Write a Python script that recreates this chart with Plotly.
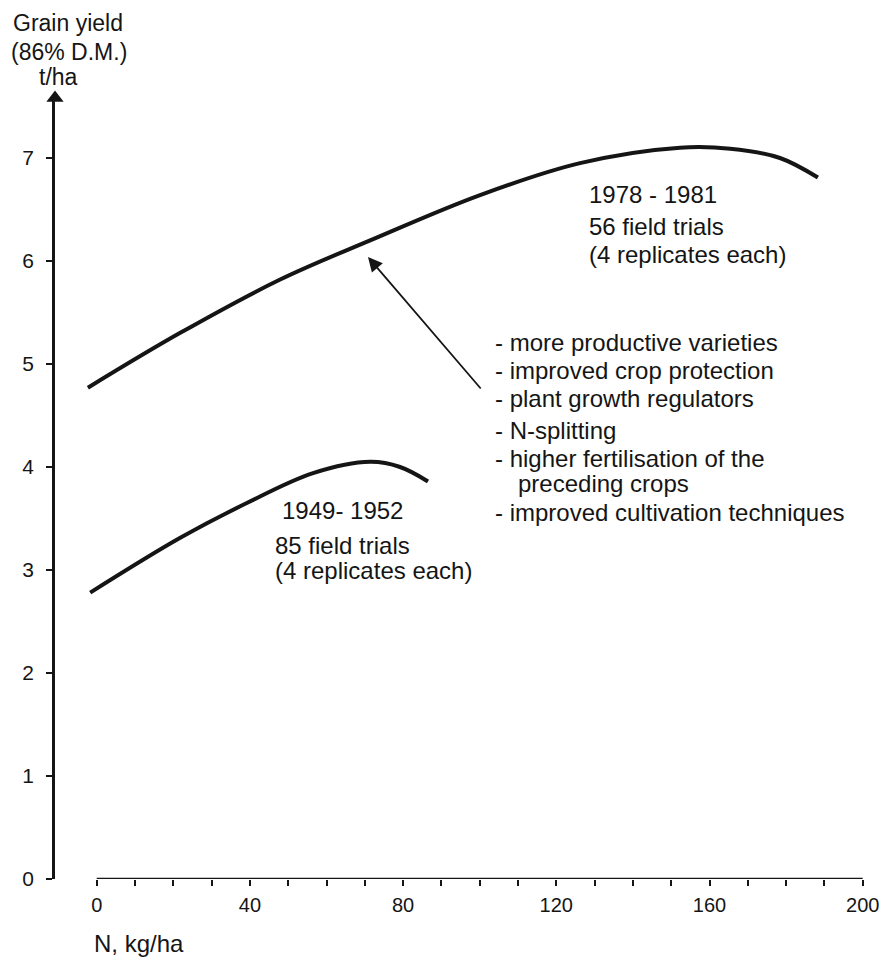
import plotly.graph_objects as go

# ---------------- data ----------------
n_1978 = [-2.3, 21.7, 47.9, 71.4, 100.1, 126.2, 152.3, 165.4, 178.4, 188.3]
y_1978 = [4.77, 5.30, 5.82, 6.20, 6.64, 6.95, 7.10, 7.09, 7.00, 6.81]

n_1949 = [-1.7, 21.7, 39.2, 56.5, 71.4, 79.2, 86.5]
y_1949 = [2.78, 3.31, 3.65, 3.94, 4.05, 4.00, 3.86]

x_ticks = [0, 40, 80, 120, 160, 200]
x_minor_step = 10
y_ticks = [0, 1, 2, 3, 4, 5, 6, 7]

label_1978 = ["1978 - 1981", "56 field trials", "(4 replicates each)"]
label_1949 = ["1949- 1952", "85 field trials", "(4 replicates each)"]
reasons = [
    "- more productive varieties",
    "- improved crop protection",
    "- plant growth regulators",
    "- N-splitting",
    "- higher fertilisation of the",
    "preceding crops",
    "- improved cultivation techniques",
]
y_title = ["Grain yield", "(86% D.M.)", "t/ha"]
x_title = "N, kg/ha"

# ---------------- geometry (reference pixel coords) ----------------
PAGE_M = 8                   # default body margin of the html page
W, H = 889 - PAGE_M, 961 - PAGE_M
X0_PX, XS = 96.7, 3.83      # px of N=0, px per kg/ha
Y0_PX, YS = 879.0, 103.0    # px of yield 0, px per t/ha
DOM_L, DOM_R = 55, 870
DOM_T = 96

def nx(px):
    return (px - X0_PX) / XS

def ny(py):
    return (Y0_PX - py) / YS

def fx(px):  # reference px -> paper fraction
    return (px - PAGE_M) / W

def fy(py):
    return 1 - (py - PAGE_M) / H

xr = [nx(DOM_L), nx(DOM_R)]
yr = [0, ny(DOM_T)]

INK = "#151515"
FONT = "Liberation Sans"
TS = 24
fig = go.Figure()

fig.add_trace(go.Scatter(x=n_1978, y=y_1978, mode="lines",
                         line=dict(color=INK, width=4, shape="spline", smoothing=1.0),
                         showlegend=False, hoverinfo="skip"))
fig.add_trace(go.Scatter(x=n_1949, y=y_1949, mode="lines",
                         line=dict(color=INK, width=4, shape="spline", smoothing=1.0),
                         showlegend=False, hoverinfo="skip"))

# arrow head on top of the y axis
fig.add_trace(go.Scatter(x=[xr[0]], y=[yr[1] - 0.02], mode="markers",
                         marker=dict(symbol="triangle-up", size=15, color=INK),
                         cliponaxis=False, showlegend=False, hoverinfo="skip"))

# x axis line spanning the tick range
fig.add_shape(type="line", xref="x", yref="y",
              x0=min(x_ticks), x1=max(x_ticks), y0=0, y1=0,
              line=dict(color=INK, width=2.5))

ann = []
def txt(x, y, s, size=TS, anchor="left"):
    ann.append(dict(x=x, y=y, xref="x", yref="y", text=s, showarrow=False,
                    xanchor=anchor, yanchor="middle",
                    font=dict(family=FONT, size=size, color=INK)))

def ptxt(px, py, s, size=TS, anchor="left"):
    ann.append(dict(x=fx(px), y=fy(py), xref="paper", yref="paper", text=s,
                    showarrow=False, xanchor=anchor, yanchor="middle",
                    font=dict(family=FONT, size=size, color=INK)))

for s, py in zip(label_1978, [195, 227, 255]):
    txt(nx(587), ny(py), s)
for s, (px, py) in zip(label_1949, [(280, 510), (273, 545), (273, 570)]):
    txt(nx(px), ny(py), s)
for s, py in zip(reasons, [342, 370, 398, 430, 458, 483, 512]):
    px = 493 if s.startswith("-") else 516
    txt(nx(px), ny(py), s)
for s, (px, py) in zip(y_title, [(68, 23), (69, 52), (58, 77)]):
    ptxt(px, py, s, size=23, anchor="center")
ptxt(92, 943, x_title)

# arrow from the list to the upper curve
ann.append(dict(x=nx(368), y=ny(257), ax=nx(482), ay=ny(390),
                xref="x", yref="y", axref="x", ayref="y", text="",
                showarrow=True, arrowhead=2, arrowsize=1.6, arrowwidth=1.8,
                arrowcolor=INK))

x_tickvals = list(range(min(x_ticks), max(x_ticks) + 1, x_minor_step))
x_ticktext = [str(v) if v in x_ticks else "" for v in x_tickvals]

fig.update_layout(
    template="none",
    width=W, height=H, autosize=False,
    margin=dict(l=0, r=0, t=0, b=0, pad=0),
    paper_bgcolor="white", plot_bgcolor="white",
    annotations=ann,
    xaxis=dict(domain=[fx(DOM_L), fx(DOM_R)], range=xr, automargin=False,
               showgrid=False, zeroline=False, showline=False,
               tickmode="array", tickvals=x_tickvals, ticktext=x_ticktext,
               ticks="outside", ticklen=6, tickwidth=2, tickcolor=INK,
               ticklabelstandoff=2,
               tickfont=dict(family=FONT, size=20, color=INK)),
    yaxis=dict(domain=[fy(Y0_PX), fy(DOM_T)], range=yr, automargin=False,
               showgrid=False, zeroline=False, showline=True,
               linecolor=INK, linewidth=2.5,
               tickmode="array", tickvals=y_ticks,
               ticks="outside", ticklen=6, tickwidth=2, tickcolor=INK,
               ticklabelstandoff=8,
               tickfont=dict(family=FONT, size=21, color=INK)),
)

fig.write_html("out.html")
